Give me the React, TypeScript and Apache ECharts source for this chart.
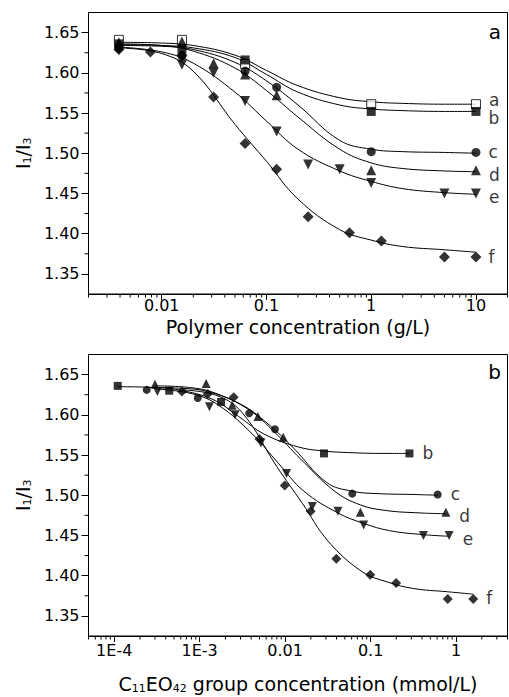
import React, { useEffect, useRef } from 'react';
import * as echarts from 'echarts';

// ---------- axis ticks ----------
const yTickValues = [1.35, 1.4, 1.45, 1.5, 1.55, 1.6, 1.65];
const yMinorValues = [1.375, 1.425, 1.475, 1.525, 1.575, 1.625];
const xTicksA = [0.01, 0.1, 1, 10];
const xTicksB = [1e-4, 1e-3, 0.01, 0.1, 1];
const xLabelsB = ['1E-4', '1E-3', '0.01', '0.1', '1'];
const minorMultipliers = [2, 3, 4, 5, 6, 7, 8, 9];
const decadesA = [0.001, 0.01, 0.1, 1, 10];
const decadesB = [1e-5, 1e-4, 1e-3, 0.01, 0.1, 1];

// ---------- panel a : markers (polymer concentration g/L, I1/I3) ----------
const aPts = [[0.0039, 1.641], [0.0156, 1.641], [0.0625, 1.611], [1, 1.561], [10, 1.561]];
const bPts = [[0.0039, 1.636], [0.0156, 1.630], [0.0625, 1.616], [1, 1.552], [10, 1.552]];
const cPts = [[0.0039, 1.631], [0.0156, 1.621], [0.0625, 1.602], [0.125, 1.582], [1, 1.502], [10, 1.501]];
const dPts = [[0.0039, 1.638], [0.0156, 1.639], [0.03125, 1.612], [0.0625, 1.598], [0.125, 1.572], [1, 1.479], [10, 1.479]];
const ePts = [[0.0039, 1.629], [0.0156, 1.610], [0.03125, 1.600], [0.0625, 1.565], [0.125, 1.527], [0.25, 1.486], [0.5, 1.480], [1, 1.463], [5, 1.450], [10, 1.450]];
const fPts = [[0.0039, 1.629], [0.0078, 1.626], [0.0156, 1.622], [0.03125, 1.570], [0.0625, 1.512], [0.125, 1.480], [0.25, 1.421], [0.62, 1.401], [1.25, 1.391], [5, 1.371], [10, 1.371]];

// panel a : fitted curves
const curveXA = [0.0039, 0.01, 0.02, 0.05, 0.1, 0.2, 0.5, 1, 2, 5, 10];
const aCurve = [1.638, 1.637, 1.634, 1.622, 1.603, 1.584, 1.569, 1.564, 1.562, 1.561, 1.561];
const bCurve = [1.635, 1.634, 1.631, 1.619, 1.598, 1.576, 1.560, 1.555, 1.553, 1.552, 1.552];
const cCurve = [1.634, 1.633, 1.629, 1.613, 1.590, 1.560, 1.516, 1.505, 1.502, 1.501, 1.500];
const dCurve = [1.636, 1.634, 1.627, 1.606, 1.578, 1.545, 1.505, 1.488, 1.481, 1.478, 1.477];
const eCurve = [1.632, 1.626, 1.612, 1.576, 1.540, 1.505, 1.478, 1.465, 1.456, 1.451, 1.449];
const fCurve = [1.631, 1.624, 1.602, 1.536, 1.490, 1.443, 1.405, 1.392, 1.384, 1.380, 1.377];

// ---------- panel b : markers (C11EO42 group concentration mmol/L) ----------
const bPtsB = [[1.1e-4, 1.636], [4.4e-4, 1.630], [1.78e-3, 1.616], [0.0285, 1.552], [0.285, 1.552]];
const cPtsB = [[2.4e-4, 1.631], [9.5e-4, 1.621], [3.8e-3, 1.602], [7.6e-3, 1.582], [0.061, 1.502], [0.61, 1.501]];
const dPtsB = [[3.0e-4, 1.638], [1.19e-3, 1.639], [2.4e-3, 1.612], [4.8e-3, 1.598], [9.5e-3, 1.572], [0.076, 1.479], [0.76, 1.479]];
const ePtsB = [[3.2e-4, 1.629], [1.3e-3, 1.610], [2.6e-3, 1.600], [5.2e-3, 1.565], [0.0104, 1.527], [0.0208, 1.486], [0.0415, 1.480], [0.083, 1.463], [0.415, 1.450], [0.83, 1.450]];
const fPtsB = [[6.2e-4, 1.629], [1.24e-3, 1.626], [2.5e-3, 1.622], [5.0e-3, 1.570], [0.0099, 1.512], [0.0199, 1.480], [0.0398, 1.421], [0.099, 1.401], [0.199, 1.391], [0.8, 1.371], [1.59, 1.371]];

// panel b : fitted curves
const bCurveXB = [1.1e-4, 2.85e-4, 5.7e-4, 1.43e-3, 2.85e-3, 5.7e-3, 0.0143, 0.0285, 0.057, 0.143, 0.285];
const cCurveXB = [2.4e-4, 6.1e-4, 1.22e-3, 3.05e-3, 6.1e-3, 0.0122, 0.0305, 0.061, 0.122, 0.305, 0.61];
const dCurveXB = [3.0e-4, 7.6e-4, 1.52e-3, 3.8e-3, 7.6e-3, 0.0152, 0.038, 0.076, 0.152, 0.38, 0.76];
const eCurveXB = [3.2e-4, 8.3e-4, 1.66e-3, 4.15e-3, 8.3e-3, 0.0166, 0.0415, 0.083, 0.166, 0.415, 0.83];
const fCurveXB = [6.2e-4, 1.59e-3, 3.18e-3, 7.95e-3, 0.0159, 0.0318, 0.0795, 0.159, 0.318, 0.795, 1.59];

const FONT = '"DejaVu Sans", Verdana, sans-serif';
const Y_MIN = 1.325;
const Y_MAX = 1.675;
const XA_MIN = 0.002;
const XA_MAX = 20;
const XB_MIN = 5e-5;
const XB_MAX = 4;

function minorList(decades: number[], lo: number, hi: number) {
  const out: number[] = [];
  decades.forEach((d) => minorMultipliers.forEach((m) => {
    const v = +(d * m).toPrecision(6);
    if (v >= lo * 0.999 && v <= hi * 1.001) out.push(v);
  }));
  return out;
}

function tickSeries(idx: number, values: number[], axis: 'x' | 'y', len: number, xMin: number) {
  return {
    type: 'custom',
    xAxisIndex: idx,
    yAxisIndex: idx,
    clip: false,
    silent: true,
    z: 1,
    data: values.map((v) => (axis === 'x' ? [v, Y_MIN] : [xMin, v])),
    renderItem: (params: any, api: any) => {
      const p = api.coord([api.value(0), api.value(1)]);
      const shape = axis === 'x'
        ? { x1: p[0], y1: p[1], x2: p[0], y2: p[1] + len }
        : { x1: p[0] - len, y1: p[1], x2: p[0], y2: p[1] };
      return { type: 'line', shape, style: { stroke: '#000', lineWidth: 1 } };
    },
  };
}

function curve(idx: number, xs: number[], ys: number[]) {
  return {
    type: 'line',
    xAxisIndex: idx,
    yAxisIndex: idx,
    data: xs.map((x, i) => [x, ys[i]]),
    showSymbol: false,
    symbol: 'none',
    smooth: 0.4,
    lineStyle: { color: '#000', width: 1 },
    silent: true,
    z: 2,
  };
}

function markers(idx: number, pts: number[][], symbol: string, size: number, open: boolean, rotate: number, label: string, offY: number, dist: number) {
  return {
    type: 'scatter',
    xAxisIndex: idx,
    yAxisIndex: idx,
    symbol,
    symbolSize: size,
    symbolRotate: rotate,
    itemStyle: open
      ? { color: '#fff', borderColor: '#000', borderWidth: 1 }
      : { color: '#000', borderColor: '#000', borderWidth: 0 },
    z: 3,
    data: pts.map((p, i) => (i === pts.length - 1
      ? {
          value: p,
          label: {
            show: true,
            formatter: label,
            position: 'right',
            distance: dist,
            offset: [0, offY],
            color: '#000',
            fontSize: 17,
            fontFamily: FONT,
          },
        }
      : { value: p })),
  };
}

const diamond = 'path://M0,-1L1,0L0,1L-1,0Z';

export default function App() {
  const ref = useRef<HTMLDivElement>(null);
  useEffect(() => {
    if (!ref.current) return;
    const chart = echarts.init(ref.current, null, { renderer: 'svg' });
    const axisText = { color: '#000', fontSize: 16, fontFamily: FONT, lineHeight: 14 };
    const nameRich = {
      sub: { fontSize: 11, fontFamily: FONT, color: '#000', padding: [9, 0, 0, 0] },
    };
    const yAxisCommon = (gi: number) => ({
      type: 'value',
      gridIndex: gi,
      min: Y_MIN,
      max: Y_MAX,
      interval: 0.025,
      splitLine: { show: false },
      axisLine: { show: true, lineStyle: { color: '#000', width: 1 } },
      axisTick: { show: true, customValues: yTickValues, length: 7, lineStyle: { color: '#000', width: 1 } },
      axisLabel: { ...axisText, customValues: yTickValues, formatter: (v: number) => v.toFixed(2), margin: 9 },
      name: '{n|I}{sub|1}{n|/I}{sub|3}',
      nameLocation: 'middle',
      nameGap: 53,
      nameTextStyle: { rich: { n: { fontSize: 19, fontFamily: FONT, color: '#000' }, ...nameRich } },
    });
    const option: any = {
      animation: false,
      backgroundColor: '#fff',
      grid: [
        { left: 88.5, top: 12.5, width: 419, height: 281.5, show: true, borderColor: '#000', borderWidth: 1 },
        { left: 88.5, top: 354.5, width: 419, height: 281.5, show: true, borderColor: '#000', borderWidth: 1 },
      ],
      xAxis: [
        {
          type: 'log',
          gridIndex: 0,
          min: XA_MIN,
          max: XA_MAX,
          splitLine: { show: false },
          axisLine: { show: true, onZero: false, lineStyle: { color: '#000', width: 1 } },
          axisTick: { show: true, customValues: xTicksA, length: 6, lineStyle: { color: '#000', width: 1 } },
          axisLabel: { ...axisText, customValues: xTicksA, formatter: (v: number) => String(+v.toPrecision(3)), margin: 4 },
          name: 'Polymer concentration (g/L)',
          nameLocation: 'middle',
          nameGap: 23,
          nameTextStyle: { fontSize: 19, fontFamily: FONT, color: '#000', lineHeight: 19 },
        },
        {
          type: 'log',
          gridIndex: 1,
          min: XB_MIN,
          max: XB_MAX,
          splitLine: { show: false },
          axisLine: { show: true, onZero: false, lineStyle: { color: '#000', width: 1 } },
          axisTick: { show: true, customValues: xTicksB, length: 6, lineStyle: { color: '#000', width: 1 } },
          axisLabel: {
            ...axisText,
            customValues: xTicksB,
            margin: 7,
            formatter: (v: number) => {
              const i = xTicksB.findIndex((t) => Math.abs(Math.log10(t) - Math.log10(v)) < 1e-6);
              return i >= 0 ? xLabelsB[i] : '';
            },
          },
          name: '{n|C}{sub|11}{n|EO}{sub|42}{n| group concentration (mmol/L)}',
          nameLocation: 'middle',
          nameGap: 38,
          nameTextStyle: { rich: { n: { fontSize: 19, fontFamily: FONT, color: '#000' }, ...nameRich } },
        },
      ],
      yAxis: [yAxisCommon(0), yAxisCommon(1)],
      graphic: [
        { type: 'text', right: 8, top: 22, style: { text: 'a', fontSize: 20, fontFamily: FONT, fill: '#000' } },
        { type: 'text', right: 8, top: 362, style: { text: 'b', fontSize: 20, fontFamily: FONT, fill: '#000' } },
      ],
      series: [
        tickSeries(0, minorList(decadesA, XA_MIN, XA_MAX), 'x', 3.5, XA_MIN),
        tickSeries(0, yMinorValues, 'y', 4, XA_MIN),
        tickSeries(1, minorList(decadesB, XB_MIN, XB_MAX), 'x', 3.5, XB_MIN),
        tickSeries(1, yMinorValues, 'y', 4, XB_MIN),

        curve(0, curveXA, aCurve),
        curve(0, curveXA, bCurve),
        curve(0, curveXA, cCurve),
        curve(0, curveXA, dCurve),
        curve(0, curveXA, eCurve),
        curve(0, curveXA, fCurve),
        markers(0, aPts, 'rect', 9, true, 0, 'a', -4, 8),
        markers(0, bPts, 'rect', 9, false, 0, 'b', 7, 8),
        markers(0, cPts, 'circle', 9, false, 0, 'c', 0, 8),
        markers(0, dPts, 'triangle', 10, false, 0, 'd', 5, 8),
        markers(0, ePts, 'triangle', 10, false, 180, 'e', 4, 8),
        markers(0, fPts, diamond, 11, false, 0, 'f', 0, 7),

        curve(1, bCurveXB, bCurve),
        curve(1, cCurveXB, cCurve),
        curve(1, dCurveXB, dCurve),
        curve(1, eCurveXB, eCurve),
        curve(1, fCurveXB, fCurve),
        markers(1, bPtsB, 'rect', 8, false, 0, 'b', 0, 9),
        markers(1, cPtsB, 'circle', 8, false, 0, 'c', 0, 9),
        markers(1, dPtsB, 'triangle', 9, false, 0, 'd', 4, 9),
        markers(1, ePtsB, 'triangle', 9, false, 180, 'e', 4, 9),
        markers(1, fPtsB, diamond, 10, false, 0, 'f', -1, 8),
      ],
    };
    chart.setOption(option);
    return () => chart.dispose();
  }, []);
  return (
    <div
      ref={ref}
      style={{ position: 'absolute', left: 0, top: 0, width: 509, height: 697, background: '#fff' }}
    />
  );
}
